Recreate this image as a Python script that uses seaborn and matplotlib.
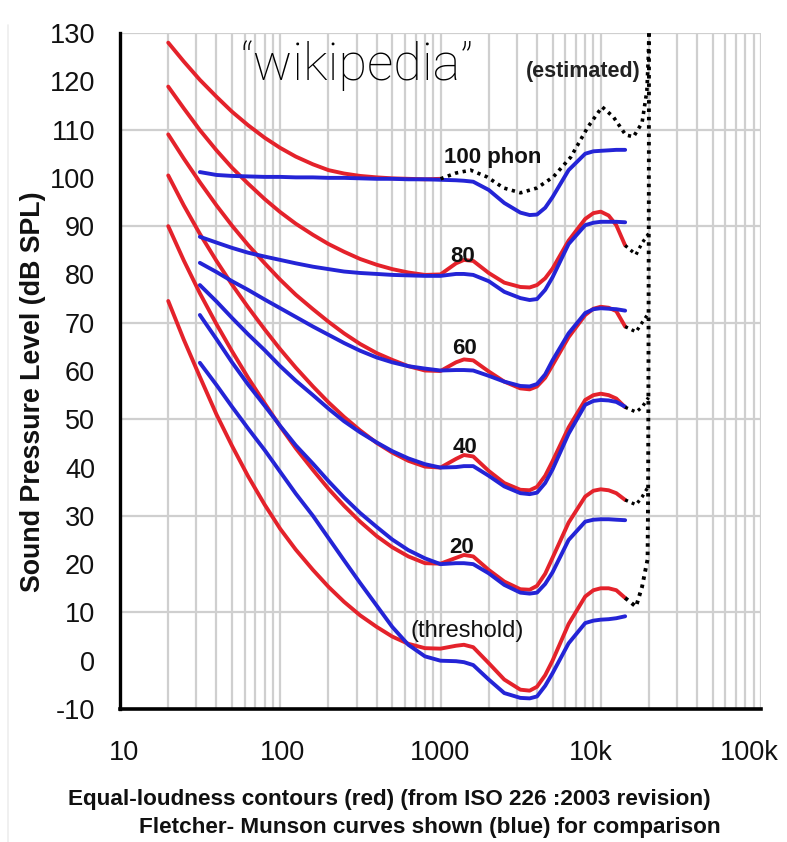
import matplotlib
matplotlib.use("Agg")
import matplotlib.pyplot as plt
from matplotlib.ticker import LogLocator, NullFormatter, FixedLocator
from matplotlib.lines import Line2D
from matplotlib.transforms import ScaledTranslation
import seaborn as sns

# ---------------- data ----------------
LOW_F = [20, 25, 31.5, 40, 50, 63, 80, 100, 125, 160, 200, 250, 315, 400, 500, 630, 800]
HIGH_F = [1000, 1250, 1400, 1600, 2000, 2500, 3150, 3600, 4000, 4500, 5000, 6300, 8000,
          9000, 10000, 11200, 12500, 14200]
BLUE_LOW_F = LOW_F[2:]

# ISO 226 (red)
RED_100 = [128.0, 124.1, 120.3, 116.8, 113.7, 110.9, 108.3, 106.2, 104.4, 102.8, 101.6, 100.9,
           100.4, 100.1, 99.9, 99.8, 99.7, 99.8]
RED_80_LOW = [118.9, 114.4, 109.9, 105.7, 102.1, 98.8, 95.6, 92.9, 90.5, 88.2, 86.3, 84.7, 83.2,
              82.0, 81.1, 80.4, 79.9]
RED_80_HIGH = [80.0, 82.3, 83.0, 82.8, 80.3, 78.3, 77.4, 77.3, 77.8, 79.2, 81.2, 87.0, 91.5,
               92.7, 93.0, 92.2, 90.2, 86.0]
RED_60_LOW = [109.0, 104.0, 99.1, 94.3, 90.1, 86.1, 82.3, 78.9, 75.8, 72.8, 70.2, 67.8, 65.6,
              63.7, 62.3, 61.0, 60.1]
RED_60_HIGH = [60.0, 61.8, 62.4, 62.2, 59.9, 57.8, 56.4, 56.2, 56.8, 58.6, 61.2, 67.0, 71.6,
               72.9, 73.3, 73.1, 72.4, 69.2]
RED_40_LOW = [100.5, 94.3, 88.4, 82.8, 77.9, 73.2, 68.6, 64.5, 60.7, 56.8, 53.5, 50.5, 47.7,
              45.1, 43.1, 41.4, 40.2]
RED_40_HIGH = [40.0, 41.8, 42.6, 42.3, 39.3, 36.8, 35.4, 35.3, 36.0, 38.3, 41.3, 48.3, 54.0,
               55.0, 55.3, 55.0, 54.3, 52.5]
RED_20_LOW = [90.0, 82.9, 76.1, 69.7, 64.1, 58.6, 53.3, 48.5, 44.0, 39.5, 35.6, 32.1, 28.8,
              25.8, 23.5, 21.6, 20.2]
RED_20_HIGH = [20.1, 21.3, 21.9, 21.6, 18.8, 16.4, 14.8, 14.7, 15.5, 18.0, 21.3, 28.6, 34.0,
               35.2, 35.5, 35.3, 34.7, 33.3]
RED_0_LOW = [74.5, 66.5, 58.8, 51.0, 44.5, 38.2, 32.3, 27.3, 23.0, 18.8, 15.3, 12.2, 9.4,
             7.0, 5.0, 3.5, 2.6]
RED_0_HIGH = [2.5, 3.1, 3.3, 2.8, -0.5, -3.9, -6.0, -6.2, -5.4, -3.0, 0.0, 7.6, 13.3,
              14.6, 15.0, 15.0, 14.6, 13.0]

# Fletcher-Munson (blue)
BLUE_100_LOW = [101.2, 100.6, 100.4, 100.3, 100.2, 100.2, 100.1, 100.1, 100.0, 100.0, 99.9,
                99.8, 99.8, 99.7, 99.7]
BLUE_100_HIGH = [99.6, 99.5, 99.4, 99.2, 97.5, 94.8, 92.8, 92.3, 92.4, 93.8, 96.0, 101.6, 105.0,
                 105.5, 105.6, 105.7, 105.8, 105.8]
BLUE_80_LOW = [87.8, 86.6, 85.5, 84.5, 83.7, 83.0, 82.3, 81.6, 81.1, 80.6, 80.3, 80.1, 79.9,
               79.8, 79.7]
BLUE_80_HIGH = [79.7, 80.1, 80.1, 79.9, 78.6, 76.4, 75.1, 74.7, 74.9, 76.8, 79.4, 86.3, 90.2,
                90.7, 90.9, 90.9, 90.9, 90.8]
BLUE_60_LOW = [82.4, 80.5, 78.6, 76.8, 74.8, 73.0, 71.2, 69.2, 67.5, 65.8, 64.2, 62.8, 61.8,
               61.0, 60.5]
BLUE_60_HIGH = [60.1, 60.2, 60.2, 60.1, 59.0, 57.8, 56.9, 56.8, 57.3, 59.3, 62.2, 67.8, 72.0,
                72.8, 73.0, 72.9, 72.8, 72.5]
BLUE_40_LOW = [77.8, 74.4, 71.0, 67.6, 64.3, 61.0, 58.0, 55.0, 52.2, 49.6, 47.3, 45.2, 43.4,
               41.9, 40.7]
BLUE_40_HIGH = [40.0, 40.1, 40.3, 40.3, 38.3, 36.1, 34.7, 34.5, 34.8, 36.8, 39.6, 47.0, 53.0,
                53.8, 54.0, 53.9, 53.6, 52.6]
BLUE_20_LOW = [71.6, 66.6, 61.8, 57.2, 52.8, 48.6, 44.6, 40.8, 37.2, 33.8, 30.6, 27.7, 25.1,
               22.9, 21.2]
BLUE_20_HIGH = [20.0, 20.2, 20.2, 20.0, 18.1, 15.7, 14.1, 13.9, 14.1, 15.9, 18.3, 25.0, 28.8,
                29.2, 29.3, 29.3, 29.2, 29.1]
BLUE_0_LOW = [61.7, 57.1, 52.6, 48.1, 43.6, 39.1, 34.6, 30.0, 25.4, 20.8, 16.1, 11.4, 7.0,
              3.3, 0.9]
BLUE_0_HIGH = [0.0, -0.1, -0.3, -0.9, -3.9, -6.7, -7.7, -7.8, -7.4, -5.2, -2.6, 3.6, 7.8,
               8.3, 8.5, 8.6, 8.8, 9.2]

# estimated (dotted black)
EST100_F = [1000, 1250, 1540, 1950, 2480, 3160, 4000, 5060, 6500, 8300, 10200, 12000, 14300,
            16000, 18100, 19400, 19800, 20000]
EST100_DB = [99.8, 101.0, 101.6, 100.2, 97.9, 96.9, 97.9, 100.2, 104.3, 110.5, 114.7, 112.6,
             108.9, 108.5, 111.4, 118.0, 125.0, 130.0]
EDGE_F = [14200, 16600, 18100, 19600, 19750, 19850, 19950, 20000]
EDGE_DB = [13.0, 11.2, 15.3, 21.0, 35.0, 60.0, 95.0, 130.0]
CONN_F = {20: [14200, 16600, 18100, 19750], 40: [14200, 16600, 18100, 19850],
          60: [14200, 16600, 18100, 19900], 80: [14200, 16600, 18100, 19950]}
CONN_DB = {20: [33.3, 32.3, 33.9, 36.0], 40: [52.5, 51.5, 52.5, 54.5],
           60: [69.2, 68.1, 70.0, 72.0], 80: [86.0, 84.1, 86.5, 88.5]}

X_TICKS = [10, 100, 1000, 10000, 100000]
X_LABELS = ["10", "100", "1000", "10k", "100k"]
Y_TICKS = list(range(-10, 131, 10))
H_GRID = [10, 30, 50, 70, 90, 110, 130]

# ---------------- style ----------------
sns.set_style("white")
plt.rcParams["font.family"] = ["Liberation Sans", "DejaVu Sans"]

RED = "#e4222b"
BLUE = "#2424d6"
GRID = "#cfcfcf"

fig = plt.figure(figsize=(7.87, 8.42), dpi=100)
fig.patch.set_facecolor("white")
ax = fig.add_axes([120 / 787, 1 - 709 / 842, 641 / 787, 676 / 842])

ax.set_xscale("log")
ax.set_xlim(10, 100000)
ax.set_ylim(-10, 130)

# grid
ax.xaxis.set_major_locator(FixedLocator(X_TICKS))
ax.xaxis.set_minor_locator(LogLocator(base=10, subs=range(2, 10)))
ax.xaxis.set_minor_formatter(NullFormatter())
ax.grid(which="both", axis="x", color=GRID, lw=1.6, zorder=0)
for h in H_GRID:
    ax.axhline(h, color=GRID, lw=1.6, zorder=0)

lw = 2.8
dot = (0, (0.9, 1.25))

red_sets = [
    (LOW_F + [1000], RED_100),
    (LOW_F + HIGH_F, RED_80_LOW + RED_80_HIGH),
    (LOW_F + HIGH_F, RED_60_LOW + RED_60_HIGH),
    (LOW_F + HIGH_F, RED_40_LOW + RED_40_HIGH),
    (LOW_F + HIGH_F, RED_20_LOW + RED_20_HIGH),
    (LOW_F + HIGH_F, RED_0_LOW + RED_0_HIGH),
]
blue_sets = [
    (BLUE_LOW_F + HIGH_F, BLUE_100_LOW + BLUE_100_HIGH),
    (BLUE_LOW_F + HIGH_F, BLUE_80_LOW + BLUE_80_HIGH),
    (BLUE_LOW_F + HIGH_F, BLUE_60_LOW + BLUE_60_HIGH),
    (BLUE_LOW_F + HIGH_F, BLUE_40_LOW + BLUE_40_HIGH),
    (BLUE_LOW_F + HIGH_F, BLUE_20_LOW + BLUE_20_HIGH),
    (BLUE_LOW_F + HIGH_F, BLUE_0_LOW + BLUE_0_HIGH),
]

for fx, fy in red_sets:
    sns.lineplot(x=fx, y=fy, color=RED, lw=lw, ax=ax, estimator=None, sort=False, zorder=3)
for fx, fy in blue_sets:
    sns.lineplot(x=fx, y=fy, color=BLUE, lw=lw, ax=ax, estimator=None, sort=False, zorder=4)

sns.lineplot(x=EST100_F, y=EST100_DB, color="black", lw=2.6, ax=ax, estimator=None,
             sort=False, linestyle=dot, zorder=5)
sns.lineplot(x=EDGE_F, y=EDGE_DB, color="black", lw=2.8, ax=ax, estimator=None,
             sort=False, linestyle=dot, zorder=5)
for k in CONN_F:
    sns.lineplot(x=CONN_F[k], y=CONN_DB[k], color="black", lw=2.4, ax=ax, estimator=None,
                 sort=False, linestyle=dot, zorder=5)

# axes / ticks
ax.set_xticks(X_TICKS)
ax.set_xticklabels(X_LABELS)
ax.set_yticks(Y_TICKS)
ax.set_yticklabels([str(v) for v in Y_TICKS])
ax.tick_params(axis="x", which="both", length=0, pad=22, labelsize=19.5, colors="#111111")
ax.tick_params(axis="y", which="both", length=0, pad=18, labelsize=19.5, colors="#111111")
for lab, dx in zip(ax.get_xticklabels(), [4, 2, 0, -10, -12]):
    lab.set_transform(lab.get_transform() + ScaledTranslation(dx / 100, 0, fig.dpi_scale_trans))
for s in ["top", "right"]:
    ax.spines[s].set_visible(False)
ax.spines["left"].set_color("black")
ax.spines["left"].set_linewidth(2.4)
ax.spines["bottom"].set_color("black")
ax.spines["bottom"].set_linewidth(2.6)
ax.set_xlabel("")
ax.set_ylabel("Sound Pressure Level (dB SPL)", fontsize=19.3, fontweight="bold",
              color="#111111")
ax.yaxis.set_label_coords(-0.1154, 0.470)

# annotations
ax.text(56.2, 120.3, "\u201cwikipedia\u201d", fontsize=37.5, ha="left", va="baseline",
        color="black", family=["Roboto", "Liberation Sans", "DejaVu Sans"], fontweight="light")
ax.text(17783, 120.9, "(estimated)", fontsize=15.5, fontweight="bold", ha="right",
        va="baseline", color="#222222")
ax.text(1045, 103.1, "100 phon", fontsize=16, fontweight="bold", ha="left", va="baseline",
        color="#111111")
for lbl, fx, fy in [("80", 1155, 82.6), ("60", 1189, 63.5), ("40", 1189, 43.0),
                    ("20", 1140, 22.3)]:
    ax.text(fx, fy, lbl, fontsize=16, fontweight="bold", ha="left", va="baseline",
            color="#111111", zorder=6)
ax.text(649, 4.95, "(threshold)", fontsize=17, ha="left", va="baseline", color="#111111",
        zorder=6)

fig.text(389 / 787, 1 - 800 / 842,
         "Equal-loudness contours (red) (from ISO 226 :2003 revision)",
         fontsize=16.2, fontweight="bold", ha="center", va="center", color="#111111")
fig.text(430 / 787, 1 - 828 / 842,
         "Fletcher- Munson curves shown (blue) for comparison",
         fontsize=16.2, fontweight="bold", ha="center", va="center", color="#111111")

fig.add_artist(Line2D([8 / 787, 8 / 787], [0, 1 - 25 / 842], transform=fig.transFigure,
                      color="#eeeeee", lw=1.2))

fig.savefig("out.png", dpi=100, facecolor="white")
